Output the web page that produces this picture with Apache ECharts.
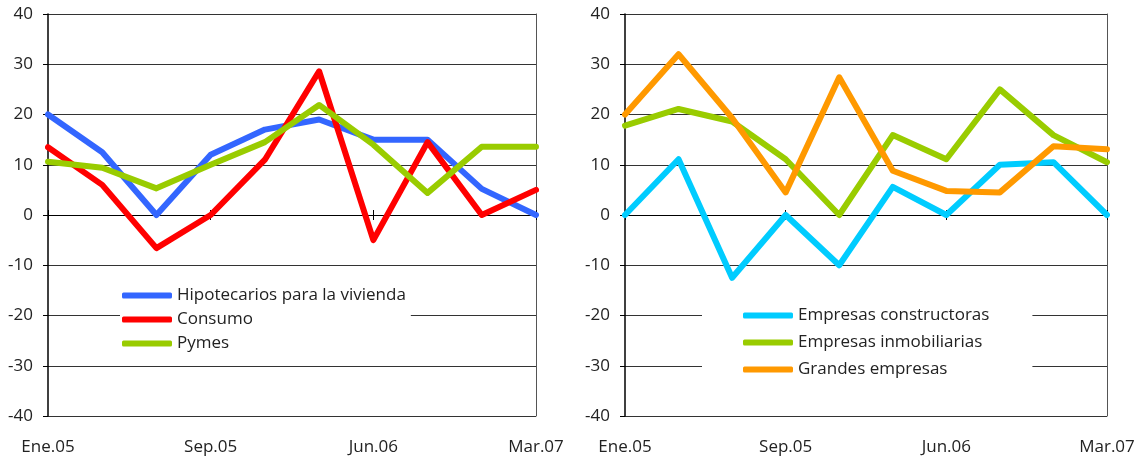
<!DOCTYPE html>
<html>
<head>
<meta charset="utf-8">
<script src="https://cdn.jsdelivr.net/npm/echarts@6/dist/echarts.min.js"></script>
<style>
html,body{margin:0;padding:0;background:#fff;}
#chart{width:1140px;height:460px;}
</style>
</head>
<body>
<div id="chart"></div>
<script>
const categories = ['Ene.05','Abr.05','Jul.05','Sep.05','Dic.05','Mar.06','Jun.06','Sep.06','Dic.06','Mar.07'];
const yTicks = {min: -40, max: 40, interval: 10};

const hipotecarios = [20, 12.5, 0, 12, 17, 19, 15, 15, 5.2, 0];
const consumo      = [13.5, 6, -6.6, 0, 11, 28.6, -5, 14.5, 0, 5];
const pymes        = [10.6, 9.4, 5.3, 10, 14.5, 21.9, 14, 4.4, 13.6, 13.6];

const constructoras = [0, 11.1, -12.5, 0, -10, 5.6, 0, 10, 10.5, 0];
const inmobiliarias = [17.8, 21.1, 18.6, 11.1, 0, 15.9, 11.1, 25, 15.9, 10.5];
const grandes       = [20, 32, 19.3, 4.5, 27.4, 8.8, 4.8, 4.5, 13.7, 13.1];

const leftNames  = ['Hipotecarios para la vivienda', 'Consumo', 'Pymes'];
const rightNames = ['Empresas constructoras', 'Empresas inmobiliarias', 'Grandes empresas'];

const FONT = 'Open Sans';
const TXT = '#222';

function xAxesFor(grid, yMain, yAux) {
  return [
    { gridIndex: grid, type: 'category', data: categories, boundaryGap: false, position: 'bottom',
      axisLine: { show: true, onZero: true, onZeroAxisIndex: yMain, lineStyle: { color: '#000', width: 1 } },
      axisTick: { show: true, interval: 2, length: 5, lineStyle: { color: '#000' } },
      axisLabel: { show: false }, splitLine: { show: false } },
    { gridIndex: grid, type: 'category', data: categories, boundaryGap: false, position: 'bottom',
      axisLine: { show: false, onZero: true, onZeroAxisIndex: yAux },
      axisTick: { show: true, inside: true, interval: 2, length: 5, lineStyle: { color: '#000' } },
      axisLabel: { show: false }, splitLine: { show: false } },
    { gridIndex: grid, type: 'category', data: categories, boundaryGap: false, position: 'bottom',
      axisLine: { show: false, onZero: false }, axisTick: { show: false },
      axisLabel: { show: true, interval: 2, margin: 23, fontFamily: FONT, fontSize: 17, color: TXT },
      splitLine: { show: false } }
  ];
}
function yAxesFor(grid) {
  return [
    { gridIndex: grid, type: 'value', min: yTicks.min, max: yTicks.max, interval: yTicks.interval, position: 'left',
      axisLine: { show: true, lineStyle: { color: '#000', width: 1.5 } },
      axisTick: { show: true, length: 5, lineStyle: { color: '#000' } },
      axisLabel: { margin: 15, fontFamily: FONT, fontSize: 17, color: TXT },
      splitLine: { show: true, lineStyle: { color: '#333', width: 1 } } },
    { gridIndex: grid, type: 'value', min: yTicks.min, max: yTicks.max, interval: yTicks.interval, position: 'right',
      axisLine: { show: true, lineStyle: { color: '#555', width: 1 } },
      axisTick: { show: false }, axisLabel: { show: false }, splitLine: { show: false } }
  ];
}
function line(name, data, color, xi, yi) {
  return { name, type: 'line', data, xAxisIndex: xi, yAxisIndex: yi, symbol: 'none',
    lineStyle: { width: 6, color, cap: 'round', join: 'round' }, itemStyle: { color }, animation: false };
}

const chart = echarts.init(document.getElementById('chart'));
chart.setOption({
  animation: false,
  grid: [
    { left: 48, top: 14, width: 488, height: 402 },
    { left: 625, top: 14, width: 482, height: 402 }
  ],
  xAxis: [...xAxesFor(0, 0, 1), ...xAxesFor(1, 2, 3)],
  yAxis: [...yAxesFor(0), ...yAxesFor(1)],
  legend: [
    { data: leftNames, orient: 'vertical', left: 120, top: 285, itemWidth: 50, itemHeight: 6, icon: 'roundRect',
      itemGap: 7, backgroundColor: '#fff', padding: [2, 5, 2, 2],
      textStyle: { fontFamily: FONT, fontSize: 17, color: TXT } },
    { data: rightNames, orient: 'vertical', left: 702, top: 305, itemWidth: 50, itemHeight: 6, icon: 'roundRect',
      itemGap: 10, backgroundColor: '#fff', padding: [2, 43, 4, 41],
      textStyle: { fontFamily: FONT, fontSize: 17, color: TXT } }
  ],
  series: [
    line(leftNames[0], hipotecarios, '#3366FF', 0, 0),
    line(leftNames[1], consumo, '#FF0000', 0, 0),
    line(leftNames[2], pymes, '#99CC00', 0, 0),
    line(rightNames[0], constructoras, '#00CCFF', 3, 2),
    line(rightNames[1], inmobiliarias, '#99CC00', 3, 2),
    line(rightNames[2], grandes, '#FF9900', 3, 2)
  ]
});
</script>
</body>
</html>
